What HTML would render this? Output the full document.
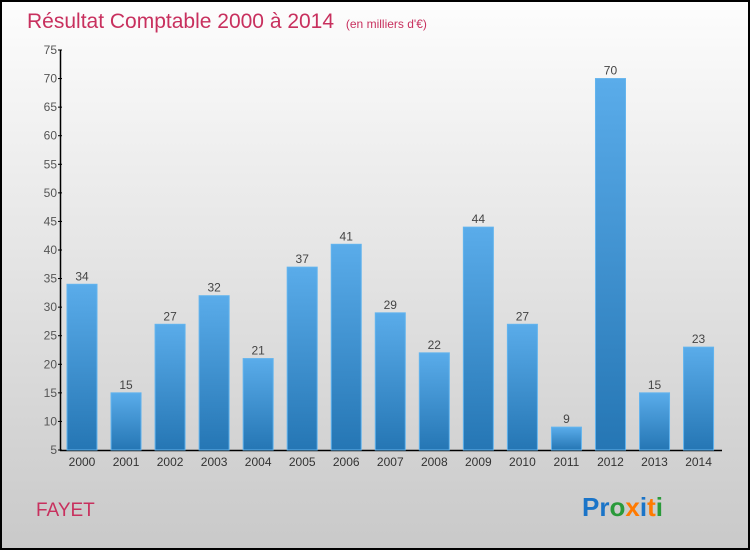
<!DOCTYPE html>
<html><head><meta charset="utf-8"><style>
body{margin:0;}
#wrap{width:750px;height:550px;position:relative;overflow:hidden;font-family:"Liberation Sans",sans-serif;}
</style></head><body>
<div id="wrap">
<svg id="chart" width="750" height="550">
<defs>
<linearGradient id="bg" x1="0" y1="0" x2="0" y2="1"><stop offset="0" stop-color="#fdfdfd"/><stop offset="1" stop-color="#c9c9c9"/></linearGradient>
<linearGradient id="bar" x1="0" y1="0" x2="0" y2="1"><stop offset="0" stop-color="#5aacea"/><stop offset="1" stop-color="#2576b4"/></linearGradient>
</defs>
<rect x="1" y="1" width="748" height="548" fill="url(#bg)" stroke="#000" stroke-width="2"/>
<text x="27" y="28" font-size="21" fill="#c8305e">Résultat Comptable 2000 à 2014 <tspan font-size="12" dx="6">(en milliers d'€)</tspan></text>
<g id="axes"></g>
<g id="bars"></g>
<text x="36" y="516" font-size="19" fill="#c8305e">FAYET</text>
<text x="582" y="516" font-size="26" font-weight="bold"><tspan fill="#1a74c8">Pr</tspan><tspan fill="#2a9a3a">o</tspan><tspan fill="#ff7a00">x</tspan><tspan fill="#1a74c8">i</tspan><tspan fill="#ff7a00">t</tspan><tspan fill="#2a9a3a">i</tspan></text>
</svg>
</div>
<script>
const categories=["2000","2001","2002","2003","2004","2005","2006","2007","2008","2009","2010","2011","2012","2013","2014"];
const values=[34,15,27,32,21,37,41,29,22,44,27,9,70,15,23];
const yTicks=[5,10,15,20,25,30,35,40,45,50,55,60,65,70,75];
const NS="http://www.w3.org/2000/svg";
const y=v=>450-(v-5)*400/70;
const x=i=>82+i*44.04;
const ax=document.getElementById('axes'),bs=document.getElementById('bars');
function mk(t,a,p){const e=document.createElementNS(NS,t);for(const k in a)e.setAttribute(k,a[k]);p.appendChild(e);return e;}
categories.forEach((c,i)=>{
 const r=mk('rect',{x:x(i)-15,y:y(values[i]),width:30,height:450-y(values[i]),fill:'url(#bar)',stroke:'#62b4ee','stroke-width':1},bs);
 
 
 const t=mk('text',{x:x(i),y:y(values[i])-4,'font-size':12,fill:'#444','text-anchor':'middle'},bs);t.textContent=values[i];
 
 
 const l=mk('text',{x:x(i),y:466,'font-size':12,fill:'#333','text-anchor':'middle'},ax);l.textContent=c;
 
 
});
yTicks.forEach(v=>{
 mk('line',{x1:58,x2:62,y1:y(v),y2:y(v),stroke:'#000'},ax);
 const t=mk('text',{x:57,y:y(v)+4,'font-size':12,fill:'#555','text-anchor':'end'},ax);t.textContent=v;
 
 
});
const ya=mk('line',{x1:60.5,x2:60.5,y1:50,y2:451,stroke:'#000','stroke-width':1.5},ax);


const xa=mk('line',{x1:60,x2:722,y1:450.5,y2:450.5,stroke:'#000','stroke-width':1.5},ax);


</script>
</body></html>
